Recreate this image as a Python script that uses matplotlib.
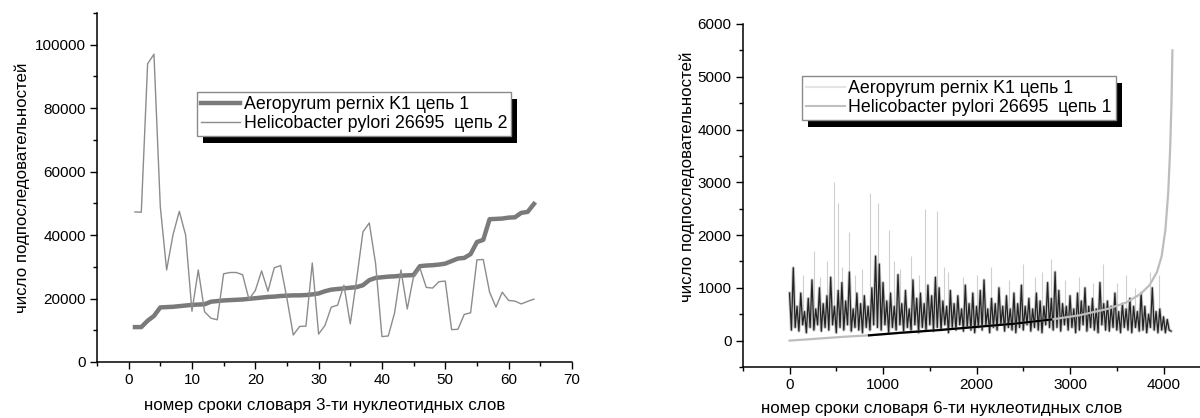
import numpy as np
import matplotlib
matplotlib.use("Agg")
import matplotlib.pyplot as plt
import matplotlib.patches as mpatches
from matplotlib.transforms import IdentityTransform
from matplotlib.ticker import MultipleLocator

plt.rcParams['font.family'] = ['Liberation Sans', 'DejaVu Sans']

# ---------------- left panel: 3-nucleotide words ----------------
rank3 = np.arange(1, 65)
aero3 = [11000, 11000, 13000, 14500, 17200, 17300, 17400, 17600, 17800, 18000,
         18100, 18200, 19000, 19200, 19400, 19500, 19600, 19700, 19900, 20100,
         20300, 20500, 20600, 20800, 20900, 21000, 21000, 21100, 21300, 21600,
         22300, 22800, 23000, 23200, 23400, 23600, 24200, 25800, 26500, 26700,
         26900, 27000, 27200, 27300, 27400, 30200, 30400, 30500, 30700, 31000,
         31800, 32600, 32800, 34000, 37800, 38500, 45000, 45100, 45200, 45500,
         45600, 47000, 47300, 49800]
heli3 = [47300, 47200, 94000, 97000, 49000, 29000, 40000, 47500, 40000, 16000,
         29000, 15800, 13800, 13300, 27800, 28200, 28200, 27500, 19800, 22500,
         28700, 22300, 29700, 30400, 20000, 8500, 11200, 11300, 31200, 8800,
         11500, 17300, 17900, 24200, 12000, 26000, 41000, 43800, 31000, 8000,
         8200, 15500, 29000, 16700, 27000, 29600, 23500, 23300, 25300, 25500,
         10200, 10300, 15000, 15500, 32200, 32300, 22000, 17300, 22000, 19400,
         19200, 18300, 19100, 19800]

# ---------------- right panel: 6-nucleotide words ----------------
# Aeropyrum pernix K1, chain 1 (noisy band, sampled every 20 ranks)
aero6_step = 20
aero6 = [900, 200, 1380, 250, 650, 180, 900, 300, 550, 150,
         800, 250, 1150, 200, 600, 300, 1000, 180, 700, 250,
         850, 200, 1200, 300, 650, 150, 950, 250, 1100, 200,
         750, 300, 1300, 180, 600, 250, 900, 200, 700, 150,
         850, 250, 650, 200, 1000, 300, 1600, 250, 1450, 200,
         1100, 300, 750, 150, 900, 250, 650, 200, 1250, 300,
         700, 180, 950, 250, 600, 200, 1150, 300, 800, 150,
         900, 250, 700, 200, 1050, 300, 850, 180, 1200, 250,
         1000, 200, 750, 300, 650, 150, 950, 250, 700, 200,
         850, 300, 600, 180, 1050, 250, 700, 200, 900, 150,
         650, 250, 950, 200, 1150, 300, 600, 150, 800, 250,
         700, 200, 1000, 300, 650, 180, 850, 250, 600, 200,
         900, 150, 700, 250, 1050, 200, 650, 300, 800, 180,
         600, 250, 900, 200, 750, 150, 650, 300, 1100, 250,
         800, 200, 1300, 250, 950, 180, 700, 300, 650, 200,
         850, 250, 600, 150, 900, 200, 750, 300, 1000, 180,
         650, 250, 800, 200, 600, 150, 1100, 300, 700, 200,
         750, 180, 650, 250, 900, 200, 550, 150, 700, 250,
         600, 200, 800, 150, 650, 250, 550, 180, 900, 200,
         650, 150, 500, 250, 1000, 200, 550, 150, 600, 200,
         450, 150, 400, 200, 180]
# isolated tall peaks of the same series
spike_x = [0, 50, 140, 260, 330, 400, 480, 520, 560, 640, 700, 780, 860, 950, 1060, 1120,
           1180, 1300, 1380, 1450, 1580, 1650, 1700, 1850, 2000, 2080, 2150, 2350, 2500,
           2620, 2700, 2800, 2950, 3100, 3250, 3350, 3500, 3600, 3700, 3850, 3950]
spike_top = [900, 1400, 1250, 1700, 1200, 1500, 3000, 2600, 1400, 2050, 1250, 1350, 2800,
             2600, 2100, 1500, 1350, 1600, 1250, 2500, 2450, 1400, 1300, 1200, 1250, 1100,
             1400, 1150, 1450, 1200, 1300, 1550, 1150, 1200, 1100, 1450, 1100, 1250, 1000,
             1300, 1250]
spike_base = 300

# Helicobacter pylori 26695, chain 1 (sorted)
heli6_x = [0, 200, 400, 600, 850, 1200, 1600, 2000, 2400, 2800, 3100, 3400, 3600, 3750,
           3850, 3930, 3980, 4020, 4050, 4070, 4085, 4095]
heli6_y = [0, 25, 50, 75, 100, 150, 200, 260, 320, 400, 480, 600, 720, 880,
           1050, 1300, 1600, 2100, 2800, 3600, 4500, 5500]

ylab = 'число подпоследовательностей'
fs_lab = 12.2
fs_leg = 12.8

fig = plt.figure(figsize=(12, 4.18), dpi=100)


def style_axes(ax):
    for s in ['top', 'right']:
        ax.spines[s].set_visible(False)
    for s in ['left', 'bottom']:
        ax.spines[s].set_linewidth(1.1)
    ax.tick_params(which='major', direction='out', length=5, width=1.0, labelsize=11, pad=3)
    ax.tick_params(which='minor', direction='out', length=3, width=1.0)
    ax.set_facecolor('none')


def add_shadow(ax, leg, renderer):
    bb = leg.get_frame().get_window_extent(renderer)
    rect = mpatches.Rectangle((bb.x0 + 6, bb.y0 - 7), bb.width, bb.height,
                              facecolor='black', edgecolor='none',
                              transform=IdentityTransform(), zorder=4.5, clip_on=False)
    ax.add_artist(rect)


# left
ax1 = fig.add_axes([0.0808, 0.134, 0.3958, 0.835])
style_axes(ax1)
ax1.plot(rank3, aero3, color='#7a7a7a', lw=3.2, label='Aeropyrum pernix K1 цепь 1', zorder=2)
ax1.plot(rank3, heli3, color='#8c8c8c', lw=1.0, label='Helicobacter pylori 26695  цепь 2', zorder=3)
ax1.set_xlim(-5, 70)
ax1.set_ylim(0, 110000)
ax1.xaxis.set_minor_locator(MultipleLocator(5))
ax1.yaxis.set_minor_locator(MultipleLocator(10000))
ax1.set_xticks([0, 10, 20, 30, 40, 50, 60, 70])
ax1.set_yticks([0, 20000, 40000, 60000, 80000, 100000])
ax1.set_xlabel('номер сроки словаря 3-ти нуклеотидных слов', fontsize=fs_lab)
ax1.set_ylabel(ylab, fontsize=fs_lab)
ax1.xaxis.set_label_coords(0.48, -0.104)
ax1.yaxis.set_label_coords(-0.142, 0.5)
leg1 = ax1.legend(loc='upper left', bbox_to_anchor=(0.2105, 0.7736), borderaxespad=0,
                  fancybox=False, edgecolor='#8a8a8a', framealpha=1, fontsize=fs_leg,
                  borderpad=0.22, handlelength=2.2, handletextpad=0.2, labelspacing=0.12)
leg1.get_frame().set_linewidth(1.0)

# right
ax2 = fig.add_axes([0.619, 0.122, 0.381, 0.8206])
style_axes(ax2)
x6 = np.arange(len(aero6)) * aero6_step
ax2.vlines(spike_x, spike_base, spike_top, color='#cfcfcf', lw=0.8, zorder=1)
ax2.plot(x6, aero6, color='#c4c4c4', lw=2.2, zorder=1.5)
ax2.plot(x6, aero6, color='#111111', lw=0.9, alpha=0.9, zorder=2)
ax2.plot(heli6_x, heli6_y, color='#bdbdbd', lw=1.6, zorder=3)
ax2.plot(heli6_x[4:10], heli6_y[4:10], color='black', lw=1.6, zorder=3)
ax2.plot([], [], color='#e4e4e4', lw=1.5, label='Aeropyrum pernix K1 цепь 1')
ax2.plot([], [], color='#c0c0c0', lw=1.5, label='Helicobacter pylori 26695  цепь 1')
ax2.set_xlim(-500, 4390)
ax2.set_ylim(-500, 6000)
ax2.xaxis.set_minor_locator(MultipleLocator(500))
ax2.yaxis.set_minor_locator(MultipleLocator(500))
ax2.set_xticks([0, 1000, 2000, 3000, 4000])
ax2.set_yticks([0, 1000, 2000, 3000, 4000, 5000, 6000])
ax2.set_xlabel('номер сроки словаря 6-ти нуклеотидных слов', fontsize=fs_lab)
ax2.set_ylabel(ylab, fontsize=fs_lab)
ax2.xaxis.set_label_coords(0.434, -0.098)
ax2.yaxis.set_label_coords(-0.105, 0.555)
leg2 = ax2.legend(loc='upper left', bbox_to_anchor=(0.129, 0.848), borderaxespad=0,
                  fancybox=False, edgecolor='#8a8a8a', framealpha=1, fontsize=fs_leg,
                  borderpad=0.22, handlelength=2.2, handletextpad=0.2, labelspacing=0.12)
leg2.get_frame().set_linewidth(1.0)

fig.canvas.draw()
renderer = fig.canvas.get_renderer()
add_shadow(ax1, leg1, renderer)
add_shadow(ax2, leg2, renderer)

fig.savefig('out.png', dpi=100)
